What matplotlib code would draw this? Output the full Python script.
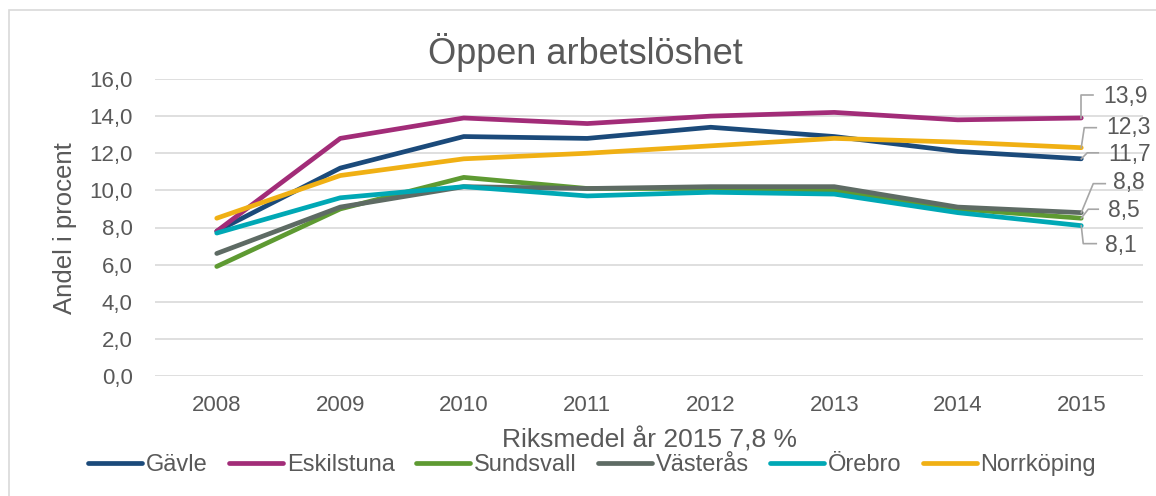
import matplotlib
matplotlib.use("Agg")
import matplotlib.pyplot as plt
from matplotlib.patches import Rectangle
from matplotlib.lines import Line2D
from matplotlib.transforms import Affine2D

years = ["2008", "2009", "2010", "2011", "2012", "2013", "2014", "2015"]
gavle = [7.8, 11.2, 12.9, 12.8, 13.4, 12.9, 12.1, 11.7]
eskilstuna = [7.8, 12.8, 13.9, 13.6, 14.0, 14.2, 13.8, 13.9]
sundsvall = [5.9, 9.0, 10.7, 10.1, 10.1, 10.0, 9.0, 8.5]
vasteras = [6.6, 9.1, 10.2, 10.1, 10.2, 10.2, 9.1, 8.8]
orebro = [7.7, 9.6, 10.2, 9.7, 9.9, 9.8, 8.8, 8.1]
norrkoping = [8.5, 10.8, 11.7, 12.0, 12.4, 12.8, 12.6, 12.3]
names = ["Gävle", "Eskilstuna", "Sundsvall", "Västerås", "Örebro", "Norrköping"]
series = [gavle, eskilstuna, sundsvall, vasteras, orebro, norrkoping]
colors = ["#1B4A7A", "#A22C78", "#5E9A32", "#5E6B64", "#00A8B5", "#F0B014"]
yticks = [0, 2, 4, 6, 8, 10, 12, 14, 16]

plt.rcParams['font.family'] = ['Liberation Sans', 'DejaVu Sans']
TXT = "#595959"
W, H = 1156, 496
fig = plt.figure(figsize=(W / 100, H / 100), dpi=100)
fig.patch.set_facecolor("white")
fig.patches.append(Rectangle((9 / W, -0.1), 1.2, 1 - 10 / H + 0.1, transform=fig.transFigure,
                             fill=False, edgecolor="#D9D9D9", linewidth=1.2))

ax = fig.add_axes([155 / W, 1 - 376 / H, (1143 - 155) / W, (376 - 79) / H])
x = list(range(len(years)))
for s, c, n in zip(series, colors, names):
    ax.plot(x, s, color=c, lw=3.4, solid_capstyle="round", solid_joinstyle="round", label=n, zorder=3)

ax.set_xlim(-0.5, len(years) - 0.5)
ax.set_ylim(0, 16)
ax.set_yticks(yticks)
ax.set_yticklabels([f"{v:.1f}".replace(".", ",") for v in yticks])
ax.set_xticks(x)
ax.set_xticklabels(years)
ax.tick_params(axis="y", length=0, pad=16, labelsize=16, labelcolor=TXT)
ax.tick_params(axis="x", length=0, pad=14, labelsize=16, labelcolor=TXT)
ax.grid(axis="y", color="#D9D9D9", lw=1.2)
ax.set_axisbelow(True)
for sp in ax.spines.values():
    sp.set_visible(False)

fig.text(585 / W, 1 - 52 / H, "Öppen arbetslöshet", ha="center", va="center", fontsize=26, color=TXT)
fig.text(65 / W, 1 - 228 / H, "Andel i procent", ha="center", va="center", rotation=90, fontsize=18.5, color=TXT)
fig.text(649 / W, 1 - 440 / H, "Riksmedel år 2015 7,8 %", ha="center", va="center", fontsize=19, color=TXT)

fig.legend(loc="center", bbox_to_anchor=(592 / W, 1 - 465 / H), ncol=6, frameon=False,
           fontsize=17, handlelength=2.3, handletextpad=0.15, columnspacing=0.9,
           labelcolor=TXT, borderaxespad=0)

# data labels with leader lines at the last point (offsets in pixels, y up)
label_specs = [
    (1, [(0, 0), (0, 23), (12, 23)], (22, 21)),
    (5, [(0, 0), (3, 20), (15, 20)], (25, 20)),
    (0, [(0, 0), (6, 6), (17, 6)], (27, 4)),
    (3, [(0, 0), (12, 29), (24, 29)], (32, 30)),
    (2, [(0, 0), (7, 9), (17, 9)], (27, 8)),
    (4, [(0, 0), (2, -18), (15, -18)], (24, -20)),
]
fig.canvas.draw()
for idx, verts, (tx, ty) in label_specs:
    val = series[idx][-1]
    px, py = ax.transData.transform((x[-1], val))
    tr = Affine2D().translate(px, py)
    ln = Line2D([v[0] for v in verts], [v[1] for v in verts], color="#A6A6A6", lw=1.2,
                transform=tr, zorder=4)
    fig.add_artist(ln)
    fig.text(0, 0, f"{val:.1f}".replace(".", ","), transform=Affine2D().translate(px + tx, py + ty),
             ha="left", va="center", fontsize=16.5, color=TXT)

fig.savefig("out.png", dpi=100)
